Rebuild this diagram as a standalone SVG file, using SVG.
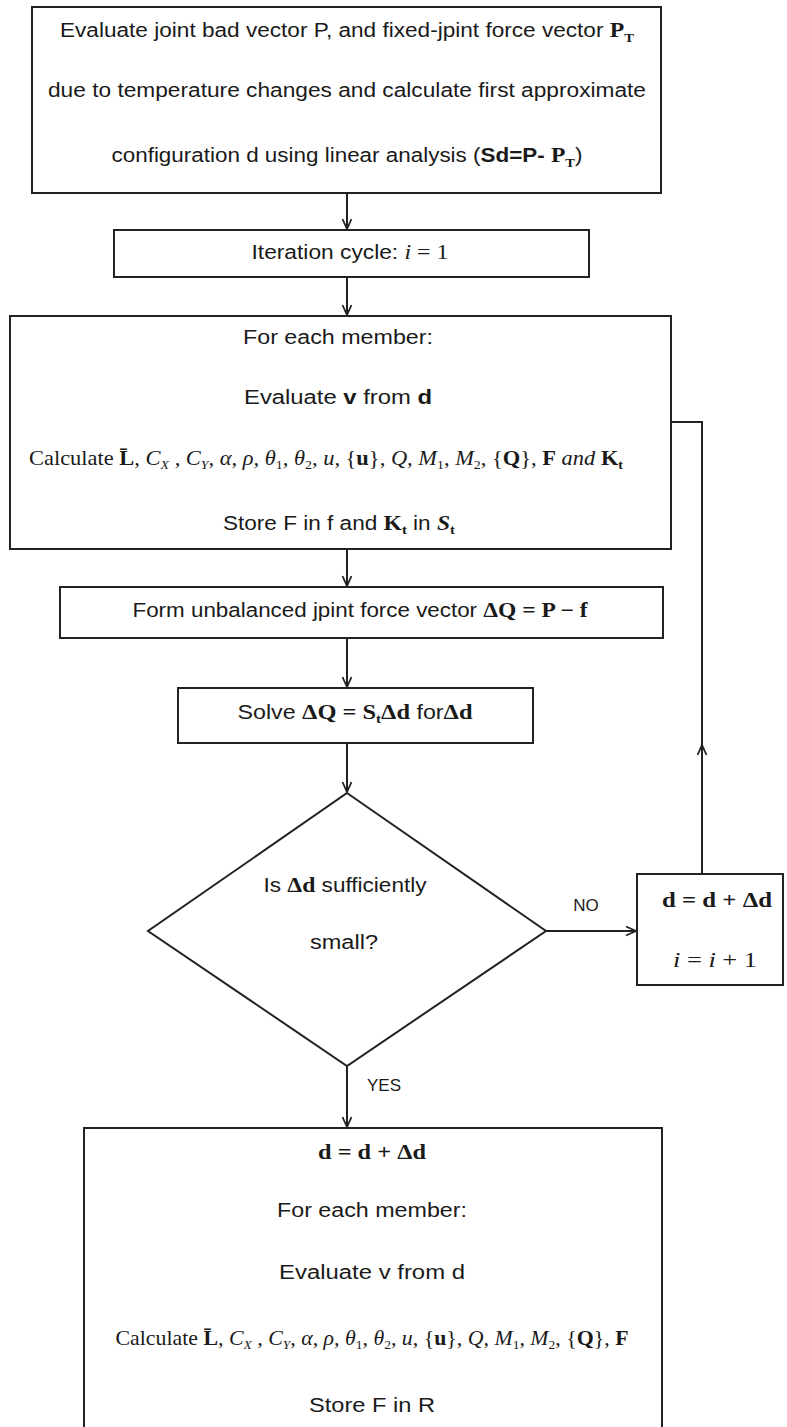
<svg xmlns="http://www.w3.org/2000/svg" width="787" height="1427" viewBox="0 0 787 1427">
<defs>
<style>
.box{fill:#fff;stroke:#222;stroke-width:2}
.ln{fill:none;stroke:#222;stroke-width:2}
text{font-family:"Liberation Sans",Arial,sans-serif;font-size:20px;fill:#1a1a1a;text-anchor:middle}
.m{font-family:"Liberation Serif","Times New Roman",serif;font-size:21px}
.b{font-weight:bold}
.i{font-style:italic}
.s{font-size:13px}
.lbl{font-size:17px}
</style>
<marker id="ah" markerUnits="userSpaceOnUse" markerWidth="12" markerHeight="12" viewBox="0 0 12 12" refX="11" refY="6" orient="auto">
<path d="M1,1.5 L11,6 L1,10.5" fill="none" stroke="#222" stroke-width="1.8"/>
</marker>
</defs>
<rect width="787" height="1427" fill="#fff"/>

<g id="connectors">
<path class="ln" d="M347,193 V229" marker-end="url(#ah)"/>
<path class="ln" d="M347,277 V315" marker-end="url(#ah)"/>
<path class="ln" d="M347,549 V586" marker-end="url(#ah)"/>
<path class="ln" d="M347,638 V687" marker-end="url(#ah)"/>
<path class="ln" d="M347,743 V792" marker-end="url(#ah)"/>
<path class="ln" d="M347,1066 V1127" marker-end="url(#ah)"/>
<path class="ln" d="M546,931 H636" marker-end="url(#ah)"/>
<path class="ln" d="M702,874 V745" marker-end="url(#ah)"/>
<path class="ln" d="M702,750 V422 H671"/>
<text class="lbl" x="586" y="911">NO</text>
<text class="lbl" x="384" y="1091">YES</text>
</g>

<g id="n1">
<rect class="box" x="32" y="7" width="629" height="186"/>
<text x="347" y="37" textLength="574" lengthAdjust="spacingAndGlyphs">Evaluate joint bad vector P, and fixed-jpint force vector <tspan class="m b">P</tspan><tspan class="m b s" dy="5">T</tspan></text>
<text x="347" y="97" textLength="598" lengthAdjust="spacingAndGlyphs">due to temperature changes and calculate first approximate</text>
<text x="347" y="162" textLength="471" lengthAdjust="spacingAndGlyphs">configuration d using linear analysis (<tspan class="b">Sd=P- </tspan><tspan class="m b">P</tspan><tspan class="m b s" dy="5">T</tspan><tspan dy="-5">)</tspan></text>
</g>

<g id="n2">
<rect class="box" x="114" y="230" width="475" height="47"/>
<text x="350" y="259" textLength="197" lengthAdjust="spacingAndGlyphs">Iteration cycle: <tspan class="m i">i</tspan><tspan class="m"> = 1</tspan></text>
</g>

<g id="n3">
<rect class="box" x="10" y="316" width="661" height="233"/>
<text x="338" y="344" textLength="190" lengthAdjust="spacingAndGlyphs">For each member:</text>
<text x="338" y="404" textLength="188" lengthAdjust="spacingAndGlyphs">Evaluate <tspan class="b">v</tspan> from <tspan class="b">d</tspan></text>
<text x="326" y="465" textLength="594" lengthAdjust="spacingAndGlyphs"><tspan class="m">Calculate </tspan><tspan class="m b">L̄</tspan><tspan class="m i">, C</tspan><tspan class="m i s" dy="4">X</tspan><tspan class="m i" dy="-4"> , C</tspan><tspan class="m i s" dy="4">Y</tspan><tspan class="m i" dy="-4">, α, ρ, θ</tspan><tspan class="m s" dy="4">1</tspan><tspan class="m i" dy="-4">, θ</tspan><tspan class="m s" dy="4">2</tspan><tspan class="m i" dy="-4">, u, </tspan><tspan class="m">{</tspan><tspan class="m b">u</tspan><tspan class="m">}</tspan><tspan class="m i">, Q, M</tspan><tspan class="m s" dy="4">1</tspan><tspan class="m i" dy="-4">, M</tspan><tspan class="m s" dy="4">2</tspan><tspan class="m" dy="-4">, {</tspan><tspan class="m b">Q</tspan><tspan class="m">}, </tspan><tspan class="m b">F</tspan><tspan class="m i"> and </tspan><tspan class="m b">K</tspan><tspan class="m b s" dy="4">t</tspan></text>
<text x="339" y="530" textLength="232" lengthAdjust="spacingAndGlyphs">Store F in f and <tspan class="m b">K</tspan><tspan class="m b s" dy="4">t</tspan><tspan dy="-4"> in </tspan><tspan class="m i b">S</tspan><tspan class="m b s" dy="4">t</tspan></text>
</g>

<g id="n4">
<rect class="box" x="60" y="587" width="603" height="51"/>
<text x="360" y="617" textLength="455" lengthAdjust="spacingAndGlyphs">Form unbalanced  jpint force vector <tspan class="m b">ΔQ = P − f</tspan></text>
</g>

<g id="n5">
<rect class="box" x="178" y="688" width="355" height="55"/>
<text x="355" y="719" textLength="235" lengthAdjust="spacingAndGlyphs">Solve <tspan class="m b">ΔQ = S</tspan><tspan class="m b s" dy="4">t</tspan><tspan class="m b" dy="-4">Δd</tspan>  for<tspan class="m b">Δd</tspan></text>
</g>

<g id="n6">
<polygon class="box" points="347,793 546,931 347,1066 148,931"/>
<text x="345" y="892" textLength="163" lengthAdjust="spacingAndGlyphs">Is <tspan class="m b">Δd</tspan> sufficiently</text>
<text x="344" y="949" textLength="68" lengthAdjust="spacingAndGlyphs">small?</text>
</g>

<g id="n7">
<rect class="box" x="637" y="874" width="146" height="111"/>
<text class="m b" x="717" y="907" textLength="110" lengthAdjust="spacingAndGlyphs">d = d + Δd</text>
<text class="m" x="715" y="967" textLength="84" lengthAdjust="spacingAndGlyphs"><tspan class="i">i</tspan> = <tspan class="i">i</tspan> + 1</text>
</g>

<g id="n8">
<path class="box" d="M84,1440 V1128 H662 V1440"/>
<text class="m b" x="372" y="1159" textLength="108" lengthAdjust="spacingAndGlyphs">d = d + Δd</text>
<text x="372" y="1217" textLength="190" lengthAdjust="spacingAndGlyphs">For each member:</text>
<text x="372" y="1279" textLength="186" lengthAdjust="spacingAndGlyphs">Evaluate v from d</text>
<text x="372" y="1345" textLength="513" lengthAdjust="spacingAndGlyphs"><tspan class="m">Calculate </tspan><tspan class="m b">L̄</tspan><tspan class="m i">, C</tspan><tspan class="m i s" dy="4">X</tspan><tspan class="m i" dy="-4"> , C</tspan><tspan class="m i s" dy="4">Y</tspan><tspan class="m i" dy="-4">, α, ρ, θ</tspan><tspan class="m s" dy="4">1</tspan><tspan class="m i" dy="-4">, θ</tspan><tspan class="m s" dy="4">2</tspan><tspan class="m i" dy="-4">, u, </tspan><tspan class="m">{</tspan><tspan class="m b">u</tspan><tspan class="m">}</tspan><tspan class="m i">, Q, M</tspan><tspan class="m s" dy="4">1</tspan><tspan class="m i" dy="-4">, M</tspan><tspan class="m s" dy="4">2</tspan><tspan class="m" dy="-4">, {</tspan><tspan class="m b">Q</tspan><tspan class="m">}, </tspan><tspan class="m b">F</tspan></text>
<text x="372" y="1412" textLength="126" lengthAdjust="spacingAndGlyphs">Store F in R</text>
</g>
</svg>
